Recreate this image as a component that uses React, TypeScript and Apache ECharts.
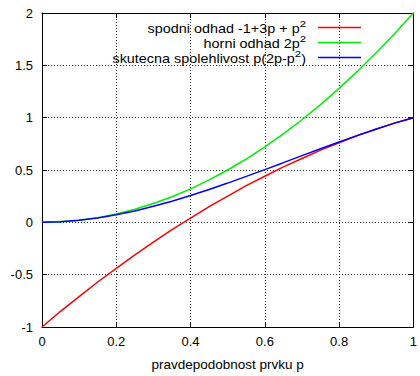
import React, { useEffect, useRef } from "react";
import * as echarts from "echarts";

const P = [0, 0.05, 0.1, 0.15, 0.2, 0.25, 0.3, 0.35, 0.4, 0.45, 0.5, 0.55, 0.6, 0.65, 0.7, 0.75, 0.8, 0.85, 0.9, 0.95, 1];
const lowerBound = [-1, -0.85, -0.71, -0.57, -0.44, -0.31, -0.19, -0.07, 0.04, 0.15, 0.25, 0.35, 0.44, 0.53, 0.61, 0.69, 0.76, 0.83, 0.89, 0.95, 1];
const upperBound = [0, 0.005, 0.02, 0.045, 0.08, 0.125, 0.18, 0.245, 0.32, 0.405, 0.5, 0.605, 0.72, 0.845, 0.98, 1.125, 1.28, 1.445, 1.62, 1.805, 2];
const reliability = [0, 0.005, 0.019, 0.042, 0.072, 0.109, 0.153, 0.202, 0.256, 0.314, 0.375, 0.439, 0.504, 0.57, 0.637, 0.703, 0.768, 0.831, 0.891, 0.948, 1];

const seriesNames = ["spodni odhad", "horni odhad", "skutecna spolehlivost"];
const legendRich = [
  "{m|spodni odhad -1+3p + p}{s|2}",
  "{m|horni odhad 2p}{s|2}",
  "{m|skutecna spolehlivost p(2p-p}{s|2}{m|)}",
];
const colors = ["#ff0000", "#00ee00", "#0000ff"];
const xAxisName = "pravdepodobnost prvku p";

const FONT = "'Liberation Sans', Arial, sans-serif";

export default function App() {
  const ref = useRef<HTMLDivElement>(null);
  useEffect(() => {
    if (!ref.current) return;
    const chart = echarts.init(ref.current, null, { renderer: "svg" });
    const values = [lowerBound, upperBound, reliability];
    const gridLine = { show: true, lineStyle: { color: "#333", width: 1, type: [1, 2] } };
    const tick = { show: true, inside: true, length: 5, lineStyle: { color: "#000" } };
    const axisLine = { show: true, onZero: false, lineStyle: { color: "#000", width: 1 } };
    const rowY = [27.5, 42.5, 57.5];
    const graphic: any[] = [];
    legendRich.forEach((t, i) => {
      graphic.push({
        type: "text",
        x: 306,
        y: rowY[i] - 0.5,
        scaleX: 1.2,
        z: 100,
        style: {
          text: t,
          align: "right",
          verticalAlign: "middle",
          fill: "#000",
          rich: {
            m: { fontSize: 12, fontFamily: FONT, fill: "#000", padding: [4, 0, 0, 0], verticalAlign: "bottom" },
            s: { fontSize: 9.5, fontFamily: FONT, fill: "#000", verticalAlign: "top" },
          },
        },
      });
      graphic.push({
        type: "line",
        z: 100,
        shape: { x1: 318, y1: rowY[i], x2: 361, y2: rowY[i] },
        style: { stroke: colors[i], lineWidth: 1.5 },
      });
    });
    chart.setOption({
      animation: false,
      grid: { left: 42, right: 4.5, top: 13, bottom: 46, containLabel: false },
      xAxis: [
        {
          type: "value", min: 0, max: 1, interval: 0.2, position: "bottom",
          name: xAxisName, nameLocation: "middle", nameGap: 30,
          nameTextStyle: { fontSize: 13.5, fontFamily: FONT, color: "#000" },
          axisLine, axisTick: tick,
          axisLabel: { fontSize: 13, fontFamily: FONT, color: "#000", margin: 8 },
          splitLine: gridLine,
        },
        {
          type: "value", min: 0, max: 1, interval: 0.2, position: "top",
          axisLine, axisTick: tick, axisLabel: { show: false }, splitLine: { show: false },
        },
      ],
      yAxis: [
        {
          type: "value", min: -1, max: 2, interval: 0.5, position: "left",
          axisLine, axisTick: tick,
          axisLabel: { fontSize: 13, fontFamily: FONT, color: "#000", margin: 9 },
          splitLine: gridLine,
        },
        {
          type: "value", min: -1, max: 2, interval: 0.5, position: "right",
          axisLine, axisTick: tick, axisLabel: { show: false }, splitLine: { show: false },
        },
      ],
      series: values.map((v, i) => ({
        name: seriesNames[i],
        type: "line",
        data: P.map((p, j) => [p, v[j]]),
        showSymbol: false,
        smooth: false,
        lineStyle: { color: colors[i], width: 1.5 },
        itemStyle: { color: colors[i] },
        z: 3 + i,
      })),
      graphic,
    });
    return () => chart.dispose();
  }, []);
  return <div ref={ref} style={{ position: "absolute", left: 0, top: 0, width: 420, height: 376 }} />;
}
